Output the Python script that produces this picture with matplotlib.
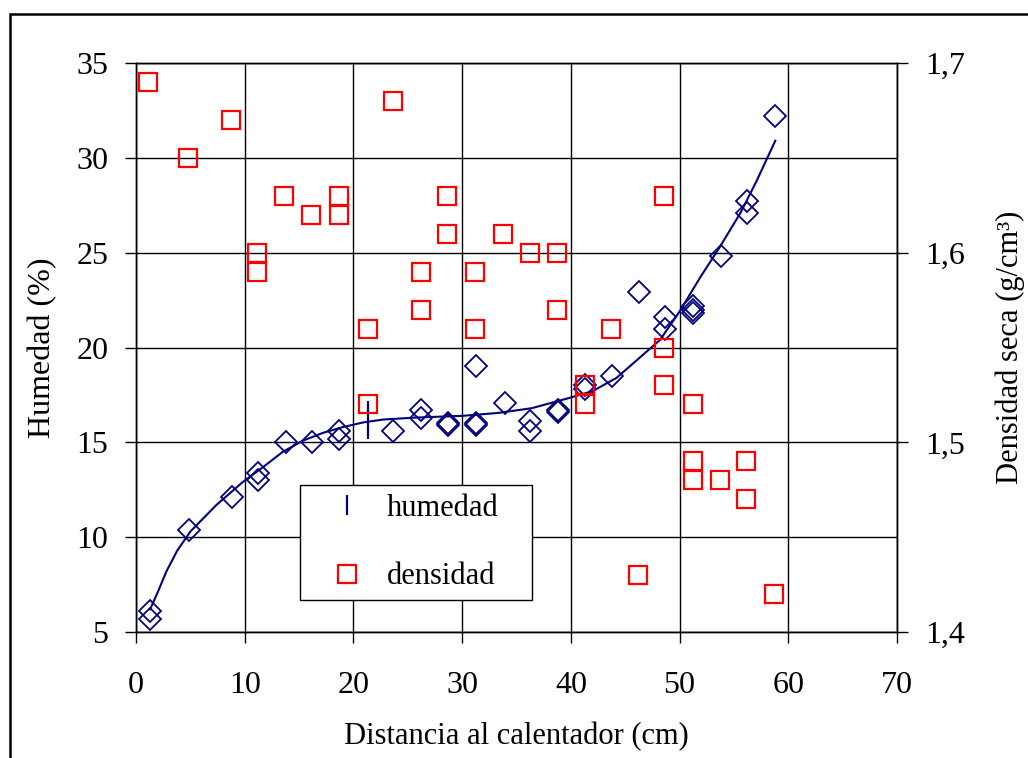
import matplotlib
matplotlib.use('Agg')
import matplotlib.pyplot as plt
from matplotlib.lines import Line2D
from matplotlib.patches import Rectangle
from matplotlib.ticker import FuncFormatter, MultipleLocator

plt.rcParams['font.family'] = ['Liberation Serif', 'DejaVu Serif']

# humedad (diamantes)
hum_x = [1.3, 1.3, 4.9, 8.8, 11.2, 11.2, 13.8, 16.2, 18.7, 18.7, 23.6, 26.2, 26.2,
         28.7, 28.7, 31.3, 31.3, 31.3, 33.9, 36.2, 36.2, 38.8, 38.8, 41.3, 41.3,
         43.8, 46.3, 48.7, 48.7, 51.2, 51.2, 51.2, 53.8, 56.2, 56.2, 58.8]
hum_y = [6.1, 5.7, 10.4, 12.1, 13.4, 13.0, 15.0, 15.0, 15.6, 15.2, 15.6, 16.7, 16.3,
         16.0, 15.9, 16.0, 15.9, 19.0, 17.1, 16.1, 15.6, 16.7, 16.6, 18.0, 17.8,
         18.5, 22.9, 21.6, 21.0, 22.2, 22.0, 21.8, 24.8, 27.7, 27.1, 32.2]

# linea de tendencia
trend_x = [1.3, 2.0, 2.8, 3.8, 5.0, 6.2, 7.4, 8.6, 9.8, 11.7, 13.5, 15.4, 17.2, 19.0,
           20.9, 22.7, 25.5, 30.1, 33.3, 36.4, 39.6, 42.0, 44.2, 46.4, 48.2, 50.0,
           51.9, 53.7, 55.6, 57.1, 58.8]
trend_y = [6.2, 7.1, 8.2, 9.3, 10.3, 11.0, 11.7, 12.3, 12.9, 13.7, 14.5, 15.1, 15.5,
           15.8, 16.05, 16.2, 16.3, 16.4, 16.55, 16.8, 17.3, 17.7, 18.4, 19.5, 20.4,
           21.9, 23.7, 25.3, 27.1, 28.8, 30.9]

# punto "humedad" de la leyenda
marca_x = [21.3]
marca_y = [16.2]

# densidad (cuadrados)
den_x = [1.1, 4.8, 8.7, 11.1, 11.1, 13.6, 16.1, 18.7, 18.7, 21.3, 21.3, 23.6,
         26.2, 26.2, 28.6, 28.6, 31.2, 31.2, 33.8, 36.2, 38.7, 38.7, 41.3, 41.3,
         43.7, 46.2, 48.6, 48.6, 48.6, 51.2, 51.2, 51.2, 53.7, 56.1, 56.1, 58.7]
den_y = [1.69, 1.65, 1.67, 1.60, 1.59, 1.63, 1.62, 1.63, 1.62, 1.56, 1.52, 1.68,
         1.59, 1.57, 1.63, 1.61, 1.59, 1.56, 1.61, 1.60, 1.60, 1.57, 1.53, 1.52,
         1.56, 1.43, 1.63, 1.55, 1.53, 1.52, 1.49, 1.48, 1.48, 1.49, 1.47, 1.42]

navy = '#000080'
rojo = '#ff0000'

fig = plt.figure(figsize=(10.28, 7.58), dpi=100)
ax = fig.add_axes([0.1323, 0.1662, 0.7403, 0.7507])
ax2 = ax.twinx()

ax.plot(trend_x, trend_y, color=navy, lw=1.5, zorder=3)
ax.plot(hum_x, hum_y, ls='none', marker='D', ms=11.5, mfc='none', mec=navy, mew=1.3, zorder=4)
ax.plot(marca_x, marca_y, ls='none', marker='|', ms=27, mec=navy, mew=1.6, zorder=5)
ax2.plot(den_x, den_y, ls='none', marker='s', ms=13, mfc='none', mec=rojo, mew=1.6)

ax.set_xlim(0, 70)
ax.set_ylim(5, 35)
ax2.set_ylim(1.4, 1.7)
ax.xaxis.set_major_locator(MultipleLocator(10))
ax.yaxis.set_major_locator(MultipleLocator(5))
ax2.yaxis.set_major_locator(MultipleLocator(0.1))
ax2.yaxis.set_major_formatter(FuncFormatter(lambda v, p: ('%.1f' % v).replace('.', ',')))

ax.grid(True, color='black', lw=1.0)
for a in (ax, ax2):
    for s in a.spines.values():
        s.set_color('black')
        s.set_linewidth(1.0)
ax.tick_params(axis='both', labelsize=23, length=8, width=1.0, direction='out', color='black')
ax.tick_params(axis='x', pad=20)
ax.tick_params(axis='y', pad=12)
ax2.tick_params(axis='y', labelsize=23, length=8, width=1.0, pad=12)

ax.set_xlabel('Distancia al calentador (cm)', fontsize=22, labelpad=16)
ax.set_ylabel('Humedad (%)', fontsize=23, labelpad=14)
ax2.set_ylabel('Densidad seca (g/cm³)', fontsize=22, labelpad=22)

handles = [Line2D([], [], ls='none', marker='|', ms=15, mec=navy, mew=1.6),
           Line2D([], [], ls='none', marker='s', ms=13, mfc='none', mec=rojo, mew=1.6)]
leg = ax2.legend(handles, ['humedad', 'densidad'], loc='lower left',
                 bbox_to_anchor=(0.2155, 0.0562, 0.3045, 0.1986), mode='expand',
                 fontsize=22, labelspacing=1.3, borderpad=0.28, handlelength=2.5,
                 handletextpad=0.05, fancybox=False, framealpha=1, edgecolor='black',
                 borderaxespad=0)
leg.get_frame().set_linewidth(1.0)

fig.patches.append(Rectangle((10 / 1028, -0.1), 1.2, 1.1 - 14 / 758, transform=fig.transFigure,
                             fill=False, lw=1.8, edgecolor='black', clip_on=False))

fig.savefig('out.png', dpi=100)
